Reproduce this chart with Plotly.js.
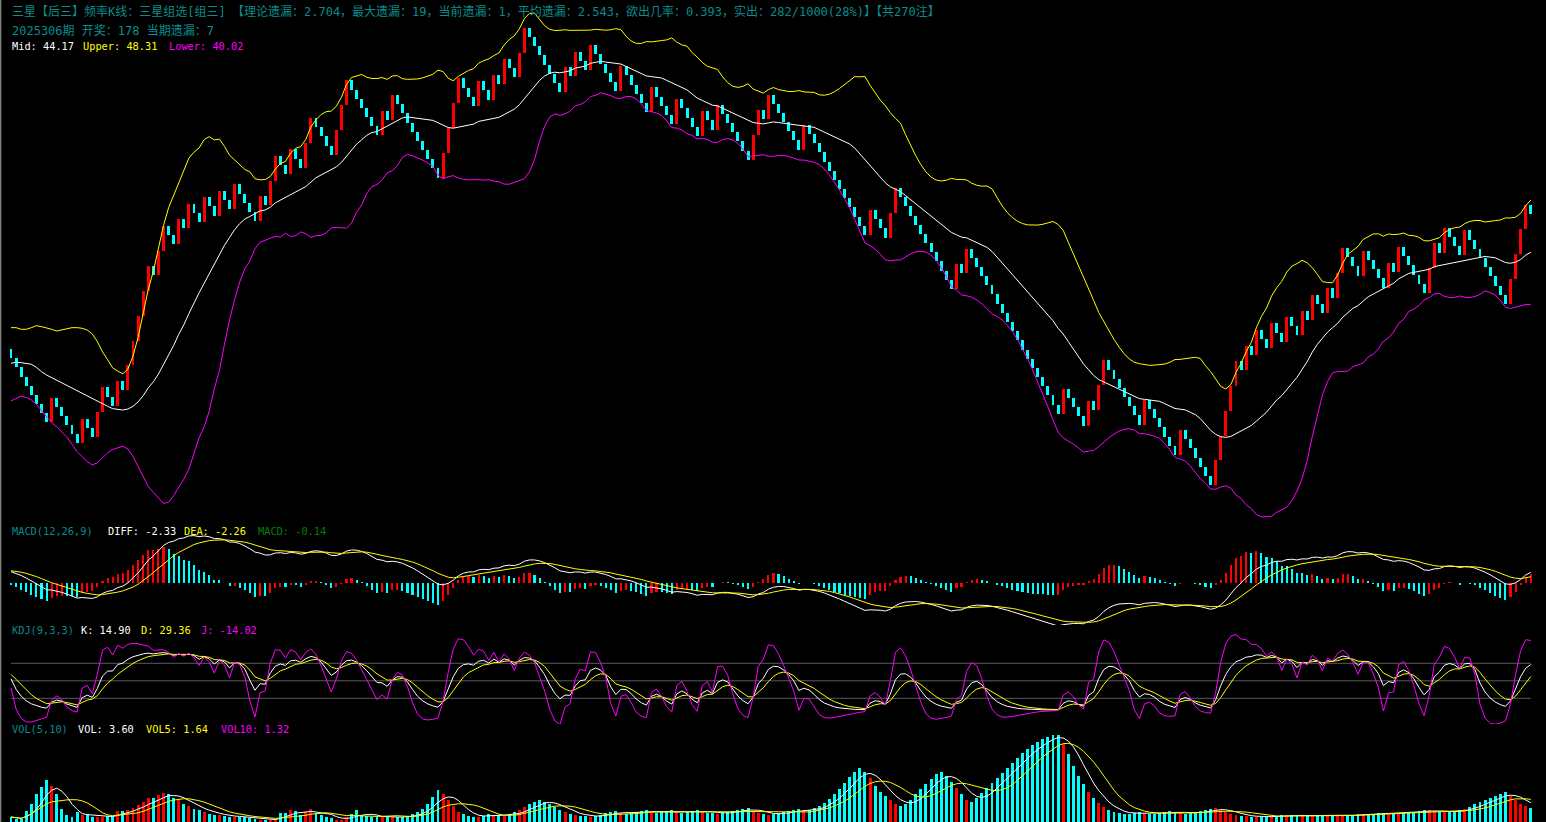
<!DOCTYPE html>
<html><head><meta charset="utf-8">
<script src="https://cdn.plot.ly/plotly-3.0.1.min.js"></script>
<style>html,body{margin:0;padding:0;background:#000;overflow:hidden}#chart{width:1546px;height:822px}</style>
</head><body><div id="chart"></div>
<script>
// ---- data ----
// 1 = hit (red candle, price up), 0 = miss (cyan candle, price down)
const hits = [
0,0,0,0,0,0,0,0,1,0, 0,0,0,0,1,0,0,1,1,0, 0,1,0,1,1,1,1,1,0,1, 1,0,0,1,0,1,0,0,1,0,
0,1,0,0,1,0,0,0,0,1, 0,1,1,0,0,1,0,0,1,1, 0,0,0,0,1,1,1,0,0,0, 0,0,0,1,0,1,0,0,0,0,
0,0,0,0,0,1,1,1,1,0, 0,0,1,0,0,1,0,1,0,0, 1,1,0,0,0,0,0,0,0,1, 0,1,0,0,1,0,0,0,0,0,
1,0,0,0,0,0,1,0,0,0, 0,1,0,0,0,0,1,0,0,1, 0,0,0,0,0,0,1,1,0,1, 0,0,0,0,0,0,1,0,0,0,
0,0,0,0,0,0,0,0,0,1, 0,0,0,1,1,0,0,0,0,0, 0,0,0,0,0,0,1,0,1,0, 0,0,0,0,0,0,0,0,0,0,
0,0,0,0,0,0,0,1,0,0, 0,0,1,0,1,1,0,0,0,0, 0,0,0,1,0,0,0,0,0,0, 1,0,0,0,0,0,0,1,1,1,
1,1,0,1,0,1,0,0,1,0, 0,1,0,0,1,0,1,0,0,1, 0,1,1,0,0,0,1,0,0,0, 0,1,0,1,0,0,0,0,0,1,
1,0,1,0,0,0,1,0,0,0, 0,0,0,0,0,1,1,1,1,0
];
const firstOpen = 36.6;
const hitStep = 2.0;
const missStep = 0.74;

const volume = [
0.5,0.3,0.3,1.1,1.8,2.8,3.5,4.2,3.6,2.8, 1.3,0.7,0.5,1.0,0.7,0.8,0.5,0.5,0.5,0.6,
0.6,1.1,1.1,1.2,1.4,1.7,2.0,2.4,2.4,2.7, 2.9,2.8,2.4,2.2,1.8,1.6,1.3,1.2,1.0,0.8,
0.7,0.7,0.6,0.5,0.5,0.5,0.5,0.4,0.3,0.2, 0.2,0.2,0.3,0.9,0.9,1.2,1.1,0.7,1.0,1.3,
0.9,0.7,0.5,0.4,0.2,0.2,0.5,0.8,1.2,0.7, 0.6,0.5,0.5,0.5,0.5,0.5,0.5,0.5,0.6,0.8,
1.0,1.3,1.8,2.5,3.2,2.8,2.2,1.6,1.0,0.8, 0.6,0.5,0.5,0.6,0.8,0.7,0.7,0.6,0.8,1.0,
1.2,1.5,1.8,2.0,2.2,2.0,1.8,1.5,1.2,1.0, 0.8,0.7,0.6,0.6,0.5,0.6,0.7,0.9,1.0,1.1,
0.9,0.8,0.9,1.0,1.1,1.2,1.0,0.9,1.0,1.1, 1.2,1.0,0.9,1.0,1.1,1.2,1.0,0.9,0.9,0.8,
0.9,1.0,1.1,1.2,1.3,1.4,1.1,0.9,0.8,0.7, 0.8,0.9,1.0,1.1,1.2,1.3,1.1,1.2,1.4,1.6,
1.9,2.3,2.8,3.3,3.9,4.5,5.0,5.4,5.0,4.4, 3.6,3.0,2.6,2.2,1.8,1.6,1.8,2.2,2.8,3.3,
3.8,4.3,4.8,5.0,4.6,4.0,3.4,2.8,2.2,2.0, 2.4,2.9,3.4,3.9,4.4,4.9,5.4,5.9,6.4,6.9,
7.3,7.7,8.0,8.3,8.5,8.7,8.7,7.8,6.8,5.6, 4.6,3.8,3.0,2.4,1.9,1.5,1.2,1.0,0.9,0.8,
0.8,0.9,1.0,0.9,0.8,0.8,0.9,1.0,1.1,1.0, 0.9,0.8,0.9,1.0,1.1,1.2,1.3,1.4,1.2,1.0,
0.8,0.7,0.6,0.6,0.5,0.5,0.5,0.6,0.6,0.6, 0.7,0.7,0.7,0.6,0.6,0.6,0.6,0.7,0.7,0.7,
0.6,0.6,0.6,0.7,0.7,0.8,0.8,0.8,0.8,0.9, 0.9,0.9,0.9,0.9,0.9,1.0,1.0,1.1,1.2,1.2,
1.1,1.0,1.0,1.0,1.1,1.2,1.3,1.5,1.8,2.0, 2.2,2.4,2.6,2.8,3.0,2.6,2.2,1.8,1.6,1.4
];

// Bollinger values shown for the first 19 periods (their 20-period window starts before the visible data)
const bollUpperStart = [38.32,38.32,38.19,38.19,38.32,38.48,38.40,38.32,38.19,38.05,38.13,38.19,38.32,38.32,38.27,38.13,37.81,37.19,36.38];
const bollMidStart   = [35.45,35.53,35.50,35.45,35.37,35.12,34.77,34.50,34.29,34.04,33.83,33.64,33.43,33.24,33.03,32.83,32.59,32.35,32.16];
const bollLowerStart = [32.41,32.62,32.81,32.70,32.49,32.14,31.62,31.14,30.66,30.33,29.93,29.48,28.91,28.32,27.91,27.51,27.25,27.43,27.83];
const macdStart = {ema12: 36.0, ema26: 35.0, dea: 1.0};
const kdjStart = {k: 80, d: 65};

const header1a = '三星【后三】频率K线：三星组选[组三]';
const header1b = '【理论遗漏：2.704，最大遗漏：19，当前遗漏：1，平均遗漏：2.543，欲出几率：0.393，实出：282/1000(28%)】【共270注】';
const header2 = '2025306期 开奖：178 当期遗漏：7';
const bollLabels = ['Mid: 44.17', 'Upper: 48.31', 'Lower: 40.02'];
const macdLabels = ['MACD(12,26,9)', 'DIFF: -2.33', 'DEA: -2.26', 'MACD: -0.14'];
const kdjLabels = ['KDJ(9,3,3)', 'K: 14.90', 'D: 29.36', 'J: -14.02'];
const volLabels = ['VOL(5,10)', 'VOL: 3.60', 'VOL5: 1.64', 'VOL10: 1.32'];

// ---- derived series ----
const n = hits.length;
const xs = [], open = [], close = [], high = [], low = [];
let p = firstOpen;
for (let i = 0; i < n; i++) {
  xs.push(i + 1);
  open.push(p);
  const c = p + (hits[i] ? hitStep : -missStep);
  close.push(c); high.push(Math.max(p, c)); low.push(Math.min(p, c));
  p = c;
}
// BOLL(20,2)
const up = [], mid = [], lo = [];
for (let i = 0; i < n; i++) {
  if (i < 19) { up.push(bollUpperStart[i]); mid.push(bollMidStart[i]); lo.push(bollLowerStart[i]); continue; }
  const w = close.slice(i - 19, i + 1);
  const m = w.reduce((a, b) => a + b, 0) / 20;
  const sd = Math.sqrt(w.reduce((a, b) => a + (b - m) * (b - m), 0) / 19);
  mid.push(m); up.push(m + 2 * sd); lo.push(m - 2 * sd);
}
// MACD(12,26,9)
const diff = [], dea = [], hist = [];
let e12 = macdStart.ema12, e26 = macdStart.ema26, de = macdStart.dea;
let prevHist = 2 * ((e12 - e26) - de);
const histColor = [];
for (let i = 0; i < n; i++) {
  e12 = e12 * 11 / 13 + close[i] * 2 / 13;
  e26 = e26 * 25 / 27 + close[i] * 2 / 27;
  const d = e12 - e26;
  de = de * 0.8 + d * 0.2;
  const h = 2 * (d - de);
  diff.push(d); dea.push(de); hist.push(h);
  histColor.push(h >= prevHist ? '#FF0000' : '#00FFFF');
  prevHist = h;
}
// KDJ(9,3,3)
const K = [], D = [], J = [];
let kk = kdjStart.k, dd = kdjStart.d;
for (let i = 0; i < n; i++) {
  const s = Math.max(0, i - 8);
  const hh = Math.max(...high.slice(s, i + 1));
  const ll = Math.min(...low.slice(s, i + 1));
  const rsv = hh === ll ? 50 : (close[i] - ll) / (hh - ll) * 100;
  kk = kk * 2 / 3 + rsv / 3; dd = dd * 2 / 3 + kk / 3;
  K.push(kk); D.push(dd); J.push(3 * kk - 2 * dd);
}
// VOL MA
function ma(arr, len) {
  return arr.map((v, i) => { const w = arr.slice(Math.max(0, i - len + 1), i + 1); return w.reduce((a, b) => a + b, 0) / w.length; });
}
const vol5 = ma(volume, 5), vol10 = ma(volume, 10);

const RED = '#FF0000', CYAN = '#00FFFF';
const upIdx = [], dnIdx = [];
for (let i = 0; i < n; i++) (hits[i] ? upIdx : dnIdx).push(i);
function pick(arr, ids) { return ids.map(i => arr[i]); }
function candleTrace(ids, color) {
  return { type: 'bar', x: pick(xs, ids), y: ids.map(i => Math.abs(close[i] - open[i])), base: ids.map(i => Math.min(open[i], close[i])),
    width: 0.58, marker: { color: color, line: { width: 0 } }, xaxis: 'x', yaxis: 'y', hoverinfo: 'skip' };
}
function line(y, color, ax) {
  return { type: 'scatter', mode: 'lines', x: xs, y: y, line: { color: color, width: 1 }, xaxis: 'x', yaxis: ax, hoverinfo: 'skip' };
}
const redH = [], cyH = [];
for (let i = 0; i < n; i++) (histColor[i] === RED ? redH : cyH).push(i);

const traces = [
  candleTrace(upIdx, RED), candleTrace(dnIdx, CYAN),
  line(up, '#FFFF00', 'y'), line(mid, '#FFFFFF', 'y'), line(lo, '#FF00FF', 'y'),
  { type: 'bar', x: pick(xs, redH), y: pick(hist, redH), width: 0.42, marker: { color: RED, line: { width: 0 } }, xaxis: 'x', yaxis: 'y2' },
  { type: 'bar', x: pick(xs, cyH), y: pick(hist, cyH), width: 0.42, marker: { color: CYAN, line: { width: 0 } }, xaxis: 'x', yaxis: 'y2' },
  line(diff, '#FFFFFF', 'y2'), line(dea, '#FFFF00', 'y2'),
  line(K, '#FFFFFF', 'y3'), line(D, '#FFFF00', 'y3'), line(J, '#FF00FF', 'y3'),
  { type: 'bar', x: pick(xs, upIdx), y: pick(volume, upIdx), width: 0.58, marker: { color: RED, line: { width: 0 } }, xaxis: 'x', yaxis: 'y4' },
  { type: 'bar', x: pick(xs, dnIdx), y: pick(volume, dnIdx), width: 0.58, marker: { color: CYAN, line: { width: 0 } }, xaxis: 'x', yaxis: 'y4' },
  line(vol5, '#FFFFFF', 'y4'), line(vol10, '#FFFF00', 'y4')
];

const W = 1546, H = 822;
const TEAL = '#0A8C8C';
const MONO = 'DejaVu Sans Mono, Noto Sans CJK SC, monospace';
function ann(text, px, py, color, size, fam) {
  return { text: text, x: px / W, y: 1 - py / H, xref: 'paper', yref: 'paper', xanchor: 'left', yanchor: 'middle',
    showarrow: false, font: { color: color, size: size || 10.3, family: fam || MONO } };
}
const CJK = 'DejaVu Sans Mono, Noto Sans CJK SC';
const annotations = [
  ann(header1a, 10, 12, TEAL, 12, CJK), ann(header1b, 230, 12, TEAL, 12, CJK),
  ann(header2, 10, 31, TEAL, 12, CJK),
  ann(bollLabels[0], 10, 46, '#FFFFFF'), ann(bollLabels[1], 81, 46, '#FFFF00'), ann(bollLabels[2], 167, 46, '#FF00FF'),
  ann(macdLabels[0], 10, 531, TEAL), ann(macdLabels[1], 106, 531, '#FFFFFF'), ann(macdLabels[2], 182, 531, '#FFFF00'), ann(macdLabels[3], 256, 531, '#008000'),
  ann(kdjLabels[0], 10, 630, TEAL), ann(kdjLabels[1], 79, 630, '#FFFFFF'), ann(kdjLabels[2], 139, 630, '#FFFF00'), ann(kdjLabels[3], 199, 630, '#FF00FF'),
  ann(volLabels[0], 10, 729, TEAL), ann(volLabels[1], 76, 729, '#FFFFFF'), ann(volLabels[2], 144, 729, '#FFFF00'), ann(volLabels[3], 219, 729, '#FF00FF')
];
const kdjLevels = [20, 50, 80];
const shapes = kdjLevels.map(v => ({ type: 'line', xref: 'x', yref: 'y3', x0: 1, x1: n, y0: v, y1: v, line: { color: '#5A5A5A', width: 1 }, layer: 'below' }));
shapes.push({ type: 'line', xref: 'paper', yref: 'paper', x0: 0.0004, x1: 0.0004, y0: 0, y1: 1, line: { color: '#808080', width: 1.5 } });

const xmin = 1 - 11 / 5.083, xmax = xmin + W / 5.083;
const layout = {
  width: W, height: H, paper_bgcolor: '#000000', plot_bgcolor: '#000000',
  margin: { l: 0, r: 0, t: 0, b: 0, pad: 0 }, showlegend: false, barmode: 'overlay', bargap: 0,
  xaxis: { range: [xmin, xmax], domain: [0, 1], visible: false, fixedrange: true },
  yaxis: { domain: [1 - 520 / H, 1], range: [22.81, 64.745], visible: false },
  yaxis2: { domain: [1 - 630 / H, 1 - 520 / H], range: [-3.79, 5.08], visible: false },
  yaxis3: { domain: [1 - 724 / H, 1 - 625 / H], range: [-24.06, 145.66], visible: false },
  yaxis4: { domain: [0, 1 - 724 / H], range: [0, 9.8], visible: false },
  annotations: annotations, shapes: shapes
};
Plotly.newPlot('chart', traces, layout, { staticPlot: true, displayModeBar: false });
</script></body></html>
